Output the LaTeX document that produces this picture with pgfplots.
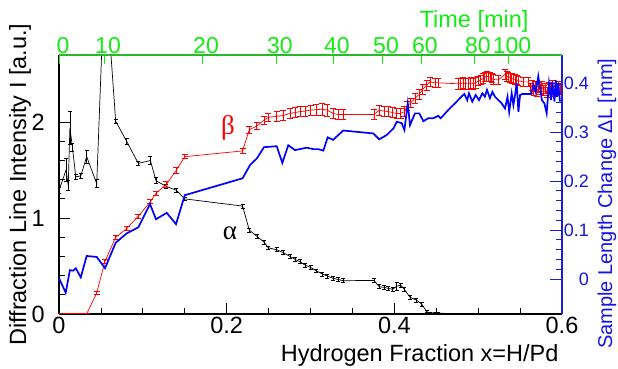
\documentclass[border=0pt]{standalone}
\usepackage{pgfplots}
\usepackage{pgfplotstable}
\pgfplotsset{compat=1.18}
\usepackage{fontspec}
\setmainfont{Liberation Sans}
\newfontfamily\greekfont{Liberation Serif}
\definecolor{rootgreen}{RGB}{20,235,20}
\definecolor{axgreen}{RGB}{40,185,40}
\definecolor{rootblue}{RGB}{0,0,255}
\definecolor{axblue}{RGB}{30,30,210}
\definecolor{labblue}{RGB}{20,20,235}

\pgfplotstableread{
x y e
0.000 1.29 0.03
0.0084 1.50 0.12
0.011 1.34 0.05
0.013 1.94 0.17
0.016 1.74 0.04
0.020 1.43 0.03
0.026 1.44 0.03
0.033 1.64 0.07
0.045 1.36 0.04
0.0547 3.60 0.05
0.0676 2.01 0.02
0.0807 1.80 0.03
0.0946 1.57 0.02
0.109 1.60 0.045
0.1157 1.39 0.03
0.128 1.33 0.02
0.140 1.29 0.02
0.150 1.20 0.02
0.219 1.125 0.02
0.227 0.875 0.02
0.236 0.81 0.02
0.2445 0.75 0.02
0.2497 0.69 0.02
0.2597 0.67 0.02
0.2675 0.64 0.02
0.2755 0.60 0.02
0.2815 0.57 0.02
0.2875 0.545 0.02
0.2934 0.51 0.02
0.300 0.486 0.02
0.307 0.45 0.02
0.314 0.417 0.02
0.320 0.396 0.02
0.327 0.372 0.02
0.333 0.36 0.02
0.339 0.347 0.02
0.3757 0.35 0.02
0.382 0.284 0.02
0.3877 0.278 0.02
0.3928 0.267 0.02
0.398 0.257 0.02
0.4028 0.29 0.04
0.4076 0.30 0.02
0.412 0.257 0.02
0.4187 0.174 0.02
0.426 0.146 0.02
0.4326 0.104 0.02
0.4386 0.024 0.01
0.4425 0.012 0.01
0.4485 0.010 0.01
0.4524 0.008 0.01
0.4763 0.004 0.005
0.479 0.004 0.005
0.482 0.004 0.005
0.485 0.004 0.005
0.488 0.004 0.005
0.491 0.004 0.005
0.494 0.004 0.005
0.497 0.004 0.005
0.5002 0.004 0.005
0.506 0.004 0.005
0.512 0.004 0.005
0.518 0.004 0.005
0.524 0.004 0.005
0.532 0.004 0.005
0.536 0.004 0.005
0.540 0.004 0.005
0.544 0.004 0.005
0.548 0.004 0.005
0.554 0.004 0.005
0.560 0.004 0.005
0.5645 0.004 0.005
0.568 0.004 0.005
0.572 0.004 0.005
0.576 0.004 0.005
0.580 0.004 0.005
0.584 0.004 0.005
0.588 0.004 0.005
0.592 0.004 0.005
0.596 0.004 0.005
0.598 0.004 0.005
}\alphadata

\pgfplotstableread{
x y e
0.000 0 0.01
0.0084 0 0.01
0.011 0 0.01
0.013 0 0.01
0.016 0 0.01
0.020 0 0.01
0.026 0 0.01
0.033 0 0.01
0.045 0.22 0.02
0.0547 0.545 0.02
0.0676 0.80 0.02
0.0807 0.89 0.02
0.0946 1.02 0.02
0.109 1.17 0.02
0.1157 1.26 0.02
0.128 1.35 0.03
0.140 1.50 0.03
0.150 1.64 0.02
0.219 1.70 0.03
0.227 1.92 0.04
0.236 1.96 0.04
0.2445 2.02 0.04
0.2497 2.05 0.04
0.2597 2.06 0.05
0.2675 2.07 0.05
0.2755 2.09 0.05
0.2815 2.10 0.05
0.2875 2.11 0.05
0.2934 2.115 0.05
0.300 2.125 0.05
0.307 2.13 0.06
0.314 2.135 0.06
0.320 2.125 0.06
0.327 2.09 0.05
0.333 2.08 0.05
0.339 2.08 0.05
0.3757 2.08 0.05
0.382 2.125 0.05
0.3877 2.115 0.05
0.3928 2.11 0.05
0.398 2.10 0.05
0.4028 2.09 0.05
0.4076 2.09 0.05
0.412 2.11 0.05
0.4155 2.17 0.05
0.4195 2.20 0.05
0.4246 2.25 0.05
0.4298 2.29 0.05
0.4338 2.34 0.05
0.4386 2.385 0.05
0.4425 2.42 0.05
0.4485 2.41 0.05
0.4524 2.41 0.05
0.4763 2.40 0.06
0.479 2.40 0.06
0.482 2.41 0.06
0.485 2.40 0.06
0.488 2.40 0.06
0.491 2.41 0.06
0.494 2.40 0.06
0.497 2.41 0.06
0.5002 2.43 0.05
0.503 2.44 0.05
0.506 2.455 0.05
0.508 2.47 0.05
0.510 2.48 0.05
0.512 2.47 0.05
0.514 2.47 0.05
0.516 2.46 0.05
0.518 2.445 0.05
0.524 2.44 0.05
0.532 2.50 0.05
0.534 2.48 0.05
0.536 2.47 0.05
0.538 2.46 0.05
0.540 2.455 0.05
0.542 2.45 0.05
0.544 2.445 0.05
0.546 2.44 0.05
0.548 2.43 0.05
0.554 2.42 0.05
0.560 2.42 0.05
0.5625 2.35 0.05
0.5645 2.38 0.05
0.566 2.33 0.05
0.568 2.37 0.05
0.570 2.32 0.05
0.572 2.36 0.05
0.574 2.34 0.05
0.576 2.37 0.05
0.578 2.33 0.05
0.580 2.35 0.05
0.582 2.31 0.05
0.584 2.36 0.05
0.586 2.34 0.05
0.588 2.38 0.05
0.590 2.32 0.05
0.592 2.35 0.05
0.594 2.33 0.05
0.596 2.37 0.05
0.598 2.34 0.05
}\betadata

\pgfplotstableread{
x y
0.000 0.002
0.008 -0.028
0.013 0.018
0.017 0.017
0.020 0.022
0.026 0.0035
0.033 0.047
0.045 0.045
0.0549 0.022
0.0676 0.074
0.0807 0.093
0.0946 0.1055
0.1085 0.153
0.1157 0.122
0.1285 0.135
0.1396 0.112
0.150 0.171
0.219 0.2055
0.228 0.233
0.236 0.246
0.2445 0.269
0.2597 0.271
0.2664 0.237
0.2735 0.273
0.2815 0.263
0.2955 0.268
0.3034 0.265
0.3093 0.265
0.3153 0.262
0.3205 0.289
0.327 0.284
0.339 0.303
0.375 0.297
0.382 0.285
0.391 0.294
0.399 0.3075
0.403 0.321
0.4088 0.318
0.412 0.304
0.416 0.3585
0.4187 0.314
0.4246 0.338
0.4298 0.338
0.4346 0.322
0.4405 0.328
0.4465 0.328
0.4524 0.333
0.4553 0.328
0.4644 0.345
0.4744 0.362
0.480 0.372
0.4835 0.3776
0.487 0.365
0.489 0.379
0.493 0.362
0.497 0.3755
0.501 0.365
0.505 0.379
0.508 0.372
0.5105 0.386
0.514 0.369
0.517 0.382
0.520 0.372
0.528 0.3585
0.532 0.348
0.535 0.372
0.537 0.341
0.540 0.379
0.542 0.355
0.544 0.3755
0.546 0.400
0.548 0.341
0.550 0.3755
0.5527 0.3776
0.563 0.3776
0.566 0.396
0.5686 0.382
0.5717 0.414
0.576 0.365
0.579 0.3585
0.5817 0.338
0.5845 0.3994
0.587 0.365
0.5885 0.4027
0.591 0.362
0.5925 0.406
0.594 0.372
0.5955 0.3994
0.5976 0.362
}\dldata

\begin{document}
\begin{tikzpicture}
\useasboundingbox (0,0) rectangle (618bp,369bp);
% main axis (left, bottom)
\begin{axis}[
  at={(59bp,55bp)}, anchor=south west, scale only axis,
  width=503bp, height=259bp,
  xmin=0, xmax=0.6, ymin=0, ymax=2.7,
  axis x line*=bottom, axis y line*=left,
  xtick={0,0.2,0.4,0.6}, minor x tick num=3,
  ytick={0,1,2}, minor y tick num=4,
  tick align=inside,
  major tick length=11bp, minor tick length=6bp,
  axis line style={line width=1.5bp, black},
  every tick/.style={black, line width=0.8bp},
  /pgf/number format/assume math mode=true,
  tick label style={font=\fontsize{23.5bp}{28bp}\selectfont},
  xticklabel style={inner sep=0pt, yshift=-3bp},
  yticklabel style={inner sep=0pt, xshift=-14bp},
  clip=true,
]
\addplot[black, line width=0.7bp, mark=none,
  error bars/.cd, y dir=both, y explicit,
  error bar style={line width=0.7bp, black},
  error mark options={rotate=90, mark size=2bp, line width=0.7bp, black}]
  table[x=x, y=y, y error=e] {\alphadata};
\addplot[red, line width=0.7bp, mark=none,
  error bars/.cd, y dir=both, y explicit,
  error bar style={line width=0.8bp, red},
  error mark options={rotate=90, mark size=3bp, line width=0.8bp, red}]
  table[x=x, y=y, y error=e] {\betadata};
\node[red, font=\greekfont\fontsize{27bp}{30bp}\selectfont] at (axis cs:0.2016,1.94) {β};
\node[black, font=\greekfont\fontsize{27bp}{30bp}\selectfont] at (axis cs:0.204,0.84) {α};
\end{axis}
% right axis (sample length change)
\begin{axis}[
  at={(59bp,55bp)}, anchor=south west, scale only axis,
  width=503bp, height=259bp,
  xmin=0, xmax=0.6, ymin=-0.0714, ymax=0.4571,
  axis x line=none, axis y line*=right,
  ytick={0,0.1,0.2,0.3,0.4}, minor y tick num=4,
  tick align=inside,
  major tick length=12bp, minor tick length=6.5bp,
  axis line style={line width=1.5bp, axblue},
  every tick/.style={axblue, line width=0.8bp},
  /pgf/number format/assume math mode=true,
  yticklabel style={font=\fontsize{18bp}{22bp}\selectfont, text=labblue, inner sep=0pt, anchor=east, xshift=27bp},
  clip=true,
]
\addplot[rootblue, line width=1.7bp, mark=none] table[x=x, y=y] {\dldata};
\end{axis}
% top axis (time)
\begin{axis}[
  at={(59bp,55bp)}, anchor=south west, scale only axis,
  width=503bp, height=259bp,
  xmin=0, xmax=0.6, ymin=0, ymax=1,
  axis x line*=top, axis y line=none,
  xtick={0,0.0537,0.1706,0.2588,0.3268,0.3853,0.4318,0.4950,0.5356},
  xticklabels={0,10,20,30,40,50,60,80,100},
  tick align=inside,
  major tick length=9bp,
  axis line style={line width=1.5bp, axgreen},
  every tick/.style={rootgreen, line width=0.8bp},
  xticklabel style={font=\fontsize{23bp}{27bp}\selectfont, text=rootgreen, inner sep=0pt, yshift=1bp, xshift=4bp},
]
\end{axis}
% titles
\node[anchor=base east, font=\fontsize{23.5bp}{28bp}\selectfont] at (562bp,8bp) {Hydrogen Fraction x=H/Pd};
\node[anchor=base east, rotate=90, font=\fontsize{23.5bp}{28bp}\selectfont] at (26bp,349bp) {Diffraction Line Intensity I [a.u.]};
\node[anchor=base east, rotate=90, text=labblue, font=\fontsize{20bp}{24bp}\selectfont] at (612bp,314bp) {Sample Length Change ΔL [mm]};
\node[anchor=base east, text=rootgreen, font=\fontsize{23.5bp}{27bp}\selectfont] at (532bp,341bp) {Time [min]};
\end{tikzpicture}
\end{document}
